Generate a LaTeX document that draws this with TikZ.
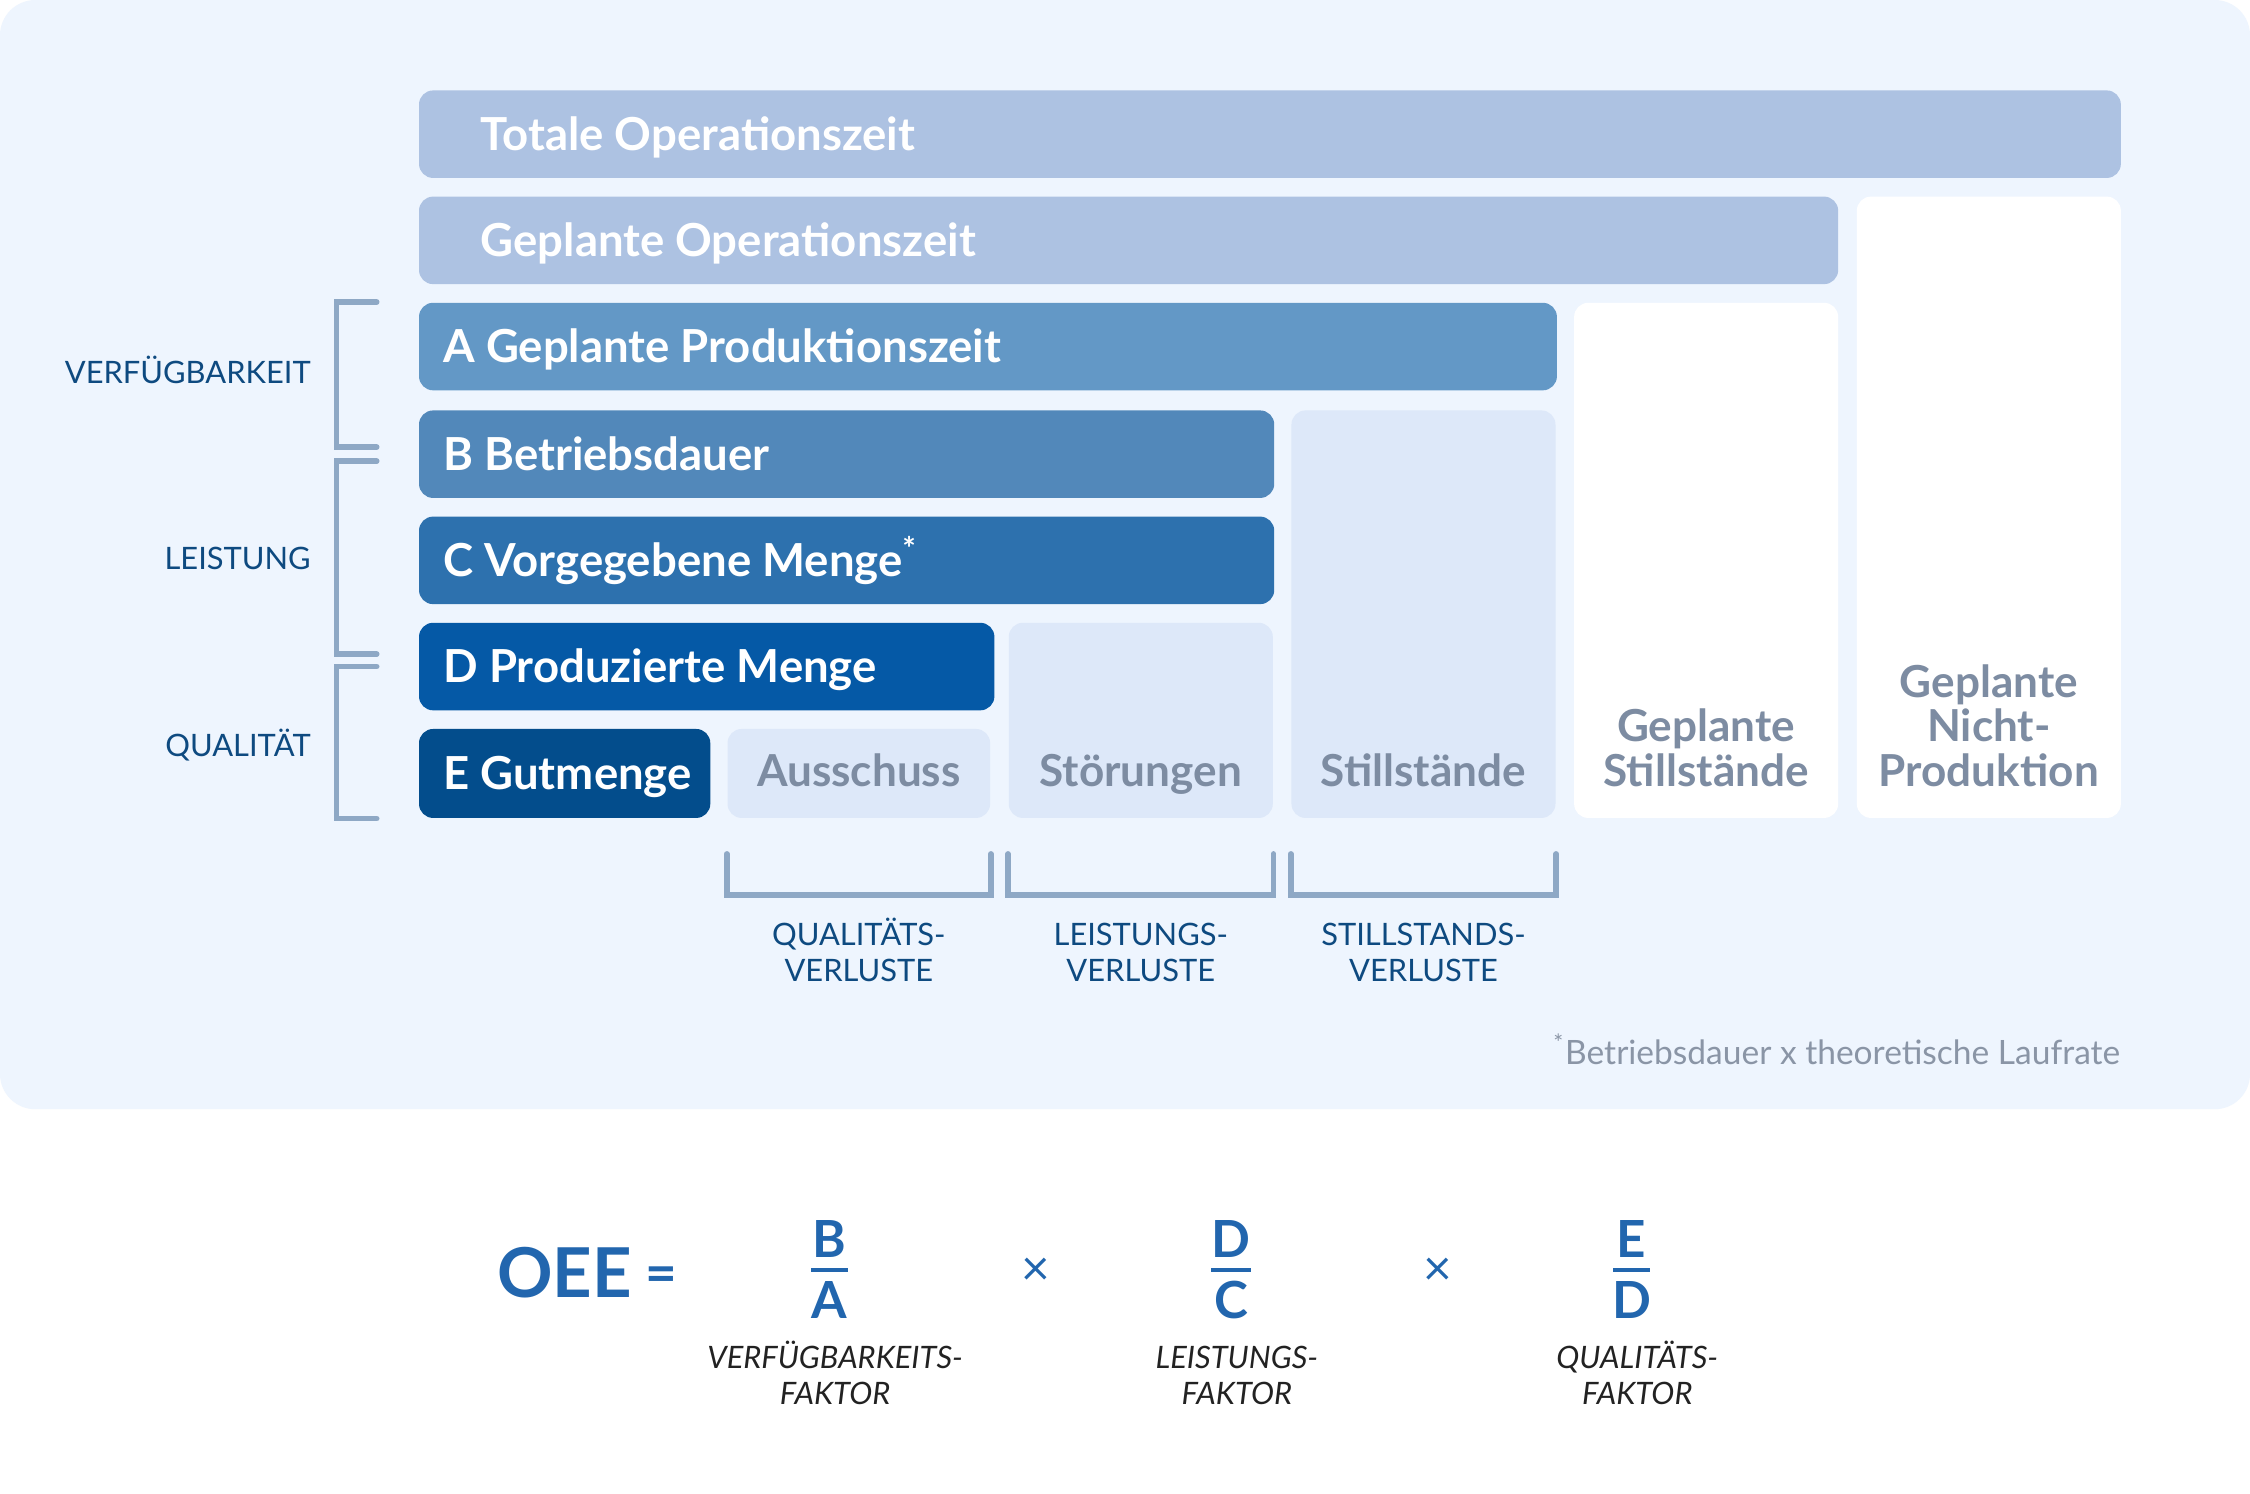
\documentclass[tikz,border=0pt]{standalone}
\usepackage{amsmath}
\usepackage{fontspec}
\setmainfont{Lato}
\usetikzlibrary{fit,calc}

\definecolor{panelbg}{HTML}{EEF5FE}
\definecolor{barlight}{HTML}{ADC2E2}
\definecolor{barA}{HTML}{6398C6}
\definecolor{barB}{HTML}{5288BA}
\definecolor{barC}{HTML}{2D71AE}
\definecolor{barD}{HTML}{0559A6}
\definecolor{barE}{HTML}{034D8C}
\definecolor{lossbox}{HTML}{DDE8F9}
\definecolor{graytxt}{HTML}{7D8CA2}
\definecolor{brkcol}{HTML}{8EA8C5}
\definecolor{labelblue}{HTML}{0E4A80}
\definecolor{oeeblue}{HTML}{2266AE}
\definecolor{factortxt}{HTML}{222222}
\definecolor{notegray}{HTML}{8A95A6}

\newcommand{\barfont}{\fontsize{12.9}{12.6}\selectfont\bfseries}
\newcommand{\grayfont}{\fontsize{12.5}{12.6}\selectfont\bfseries}
\newcommand{\lblfont}{\fontsize{8.75}{10.2}\selectfont}

\begin{document}
\begin{tikzpicture}[x=0.4068pt, y=-0.4068pt,
    box/.style={inner sep=0pt, rounded corners=4pt},
    bartext/.style={anchor=west, inner sep=0pt, text=white, text height=9pt, text depth=0pt, font=\barfont},
    graytext/.style={anchor=base, inner sep=0pt, align=center, text=graytxt, font=\grayfont},
    brk/.style={draw=brkcol, line width=1.6pt, line cap=round},
    sidelabel/.style={anchor=base east, inner sep=0pt, text=labelblue, font=\lblfont},
    losslabel/.style={anchor=base, inner sep=0pt, align=center, text=labelblue, font=\lblfont},
    factor/.style={anchor=base, inner sep=0pt, align=center, text=factortxt, font=\lblfont\itshape},
    fracletter/.style={anchor=base, inner sep=0pt, minimum width=10pt, text=oeeblue, font=\fontsize{14.5}{15}\selectfont\bfseries},
    fracrule/.style={draw=oeeblue, line width=1.2pt},
    timessign/.style={inner sep=0pt, text=oeeblue, font=\fontsize{14}{15}\selectfont}
  ]
    \useasboundingbox (0,0) rectangle (1568,1041);
    \fill[white] (0,0) rectangle (1568,1041);
    \fill[panelbg, rounded corners=10pt] (0,0) rectangle (1568,773);

    % bars and loss boxes
    \node[box, fill=barlight, fit={(292,63) (1478,124)}] (T) {};
    \node[box, fill=barlight, fit={(292,137) (1281,198)}] (G) {};
    \node[box, fill=white, fit={(1294,137) (1478,570)}] (GNP) {};
    \node[box, fill=barA, fit={(292,211) (1085,272)}] (A) {};
    \node[box, fill=white, fit={(1097,211) (1281,570)}] (GS) {};
    \node[box, fill=barB, fit={(292,286) (888,347)}] (B) {};
    \node[box, fill=lossbox, fit={(900,286) (1084,570)}] (Still) {};
    \node[box, fill=barC, fit={(292,360) (888,421)}] (C) {};
    \node[box, fill=barD, fit={(292,434) (693,495)}] (D) {};
    \node[box, fill=lossbox, fit={(703,434) (887,570)}] (Stoer) {};
    \node[box, fill=barE, fit={(292,508) (495,570)}] (E) {};
    \node[box, fill=lossbox, fit={(507,508) (690,570)}] (Aus) {};

    \node[bartext] (tT) at ([xshift=17.5pt]T.west) {Totale Operationszeit};
    \node[bartext] (tG) at ([xshift=17.5pt]G.west) {Geplante Operationszeit};
    \node[bartext] (tA) at ([xshift=6.9pt]A.west) {A Geplante Produktionszeit};
    \node[bartext] (tB) at ([xshift=6.9pt]B.west) {B Betriebsdauer};
    \node[bartext] (tC) at ([xshift=6.9pt]C.west) {C Vorgegebene Menge\textsuperscript{*}};
    \node[bartext] (tD) at ([xshift=6.9pt]D.west) {D Produzierte Menge};
    \node[bartext] (tE) at ([xshift=6.9pt]E.west) {E Gutmenge};

    \node[graytext] (tGNP) at (GNP |- 0,548) {Geplante\\Nicht-\\Produktion};
    \node[graytext] (tGS) at (GS |- 0,548) {Geplante\\Stillstände};
    \node[graytext] (tStill) at (Still |- 0,548) {Stillstände};
    \node[graytext] (tStoer) at (Stoer |- 0,548) {Störungen};
    \node[graytext] (tAus) at (Aus |- 0,548) {Ausschuss};

    % brackets left
    \draw[brk] ([xshift=-11.8pt]A.north west) -| ([xshift=-23.2pt,yshift=2pt]B.west) -- ([xshift=-11.8pt,yshift=2pt]B.west);
    \draw[brk] ([xshift=-11.8pt,yshift=-2pt]B.west) -| ([xshift=-23.2pt,yshift=3.5pt]D.west) -- ([xshift=-11.8pt,yshift=3.5pt]D.west);
    \draw[brk] ([xshift=-11.8pt]D.west) -| ([xshift=-23.2pt]E.south west) -- ([xshift=-11.8pt]E.south west);
    \node[sidelabel] (lV) at (217,267) {VERFÜGBARKEIT};
    \node[sidelabel] (lL) at (217,397) {LEISTUNG};
    \node[sidelabel] (lQ) at (217,527) {QUALITÄT};

    % brackets below
    \draw[brk] ([yshift=-10pt]Aus.south west) -- ([yshift=-21.6pt]Aus.south west) -| ([yshift=-10pt]Aus.south east);
    \draw[brk] ([yshift=-10pt]Stoer.south west) -- ([yshift=-21.6pt]Stoer.south west) -| ([yshift=-10pt]Stoer.south east);
    \draw[brk] ([yshift=-10pt]Still.south west) -- ([yshift=-21.6pt]Still.south west) -| ([yshift=-10pt]Still.south east);
    \node[losslabel] (lAus) at (Aus |- 0,684) {QUALITÄTS-\\VERLUSTE};
    \node[losslabel] (lStoer) at (Stoer |- 0,684) {LEISTUNGS-\\VERLUSTE};
    \node[losslabel] (lStill) at (Still |- 0,684) {STILLSTANDS-\\VERLUSTE};

    \node[anchor=base east, inner sep=0pt, text=notegray, font=\fontsize{9.5}{10}\selectfont] (note) at (1478,742) {\textsuperscript{*}Betriebsdauer x theoretische Laufrate};

    % formula
    \node[anchor=base west, inner sep=0pt, text=oeeblue, font=\fontsize{19.5}{22}\selectfont\bfseries] (oee) at (346,904) {OEE};
    \node[inner sep=0pt, text=oeeblue, font=\fontsize{15.5}{16}\selectfont\bfseries] (eq) at (461,892) {=};
    \node[fracletter] (nB) at (578,876) {B};
    \node[fracletter] (dA) at (578,919) {A};
    \draw[fracrule] (nB.west |- 0,885) -- (nB.east |- 0,885);
    \node[timessign] (x1) at (722,886) {×};
    \node[fracletter] (nD) at (858,876) {D};
    \node[fracletter] (dC) at (858,919) {C};
    \draw[fracrule] (nD.west |- 0,885) -- (nD.east |- 0,885);
    \node[timessign] (x2) at (1002,886) {×};
    \node[fracletter] (nE) at (1137,876) {E};
    \node[fracletter] (dD) at (1137,919) {D};
    \draw[fracrule] (nE.west |- 0,885) -- (nE.east |- 0,885);
    \node[factor] (fV) at (582,979) {VERFÜGBARKEITS-\\FAKTOR};
    \node[factor] (fL) at (862,979) {LEISTUNGS-\\FAKTOR};
    \node[factor] (fQ) at (1141,979) {QUALITÄTS-\\FAKTOR};
\end{tikzpicture}
\end{document}
